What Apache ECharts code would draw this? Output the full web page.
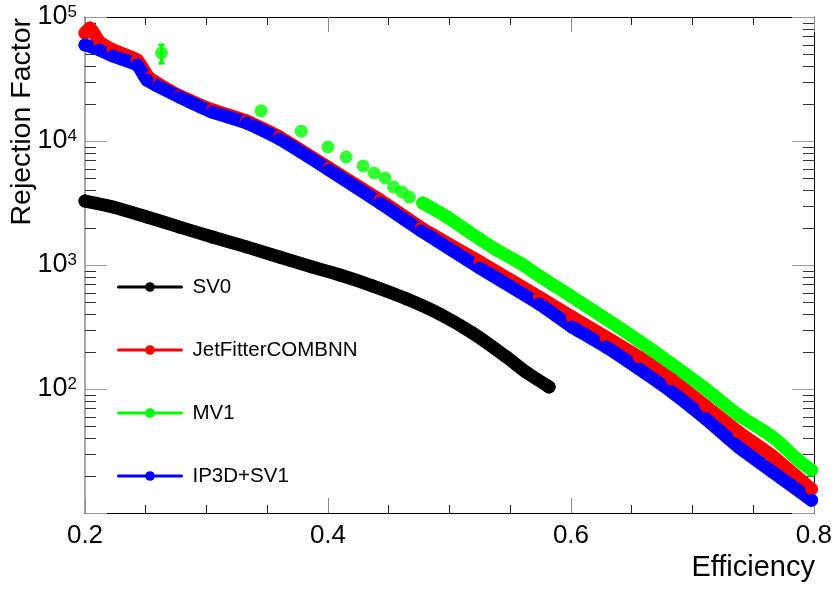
<!DOCTYPE html>
<html>
<head>
<meta charset="utf-8">
<script src="https://cdn.jsdelivr.net/npm/echarts@6/dist/echarts.min.js"></script>
<style>
  html, body { margin: 0; padding: 0; background: #fff; }
  #chart { width: 835px; height: 590px; }
</style>
</head>
<body>
<div id="chart"></div>
<script>
// b-tagging performance: light-jet rejection versus b-jet efficiency

// SV0
const sv0Eff = [0.200, 0.223, 0.251, 0.278, 0.305, 0.333, 0.360, 0.387, 0.410, 0.437, 0.465, 0.492, 0.519, 0.547, 0.563, 0.582];
const sv0Rej = [3280, 2940, 2440, 2020, 1680, 1400, 1160, 964, 830, 677, 532, 403, 283, 181, 137, 104];

// JetFitterCOMBNN
const jfEff = [0.200, 0.204, 0.212, 0.223, 0.243, 0.253, 0.278, 0.305, 0.333, 0.360, 0.401, 0.443, 0.477, 0.525, 0.574, 0.601, 0.629, 0.656, 0.683, 0.711, 0.738, 0.766, 0.798];
const jfRej = [74300, 81500, 62900, 54200, 45000, 32200, 23100, 17800, 14500, 10800, 6060, 3340, 1990, 1060, 552, 381, 262, 181, 120, 72.9, 45.0, 28.8, 15.6];

// MV1: isolated high-rejection points, then the dense part of the curve
const mv1SparseEff = [0.263, 0.345, 0.378, 0.400, 0.415, 0.429, 0.438, 0.447, 0.454, 0.461, 0.467];
const mv1SparseRej = [51300, 17500, 12000, 8950, 7430, 6290, 5520, 5030, 4260, 3880, 3530];
const mv1Eff = [0.478, 0.498, 0.516, 0.539, 0.558, 0.574, 0.601, 0.629, 0.656, 0.683, 0.711, 0.738, 0.766, 0.788, 0.798];
const mv1Rej = [3160, 2440, 1850, 1320, 1040, 815, 552, 367, 244, 159, 100, 61.7, 41.0, 26.3, 22.2];
// statistical error on the first MV1 point: [efficiency, low, high]
const mv1Err = [[0.263, 42500, 59500]];

// IP3D+SV1
const ipEff = [0.200, 0.212, 0.223, 0.243, 0.251, 0.278, 0.305, 0.333, 0.360, 0.401, 0.443, 0.477, 0.525, 0.574, 0.601, 0.629, 0.656, 0.683, 0.711, 0.738, 0.766, 0.798];
const ipRej = [59500, 54200, 48500, 41000, 31000, 22600, 17100, 14000, 10400, 5840, 3160, 1880, 946, 484, 316, 218, 145, 94.6, 57.3, 34.0, 21.4, 12.7];

// axes
const X_MIN = 0.2, X_MAX = 0.8, X_STEP = 0.2;
const Y_MIN = 10, Y_MAX = 100000;
const minorMantissas = [2, 3, 4, 5, 6, 7, 8, 9];
const minorDecades = [10, 100, 1000, 10000];
const yMinorTicks = [];
minorDecades.forEach(d => minorMantissas.forEach(m => yMinorTicks.push(m * d)));

const legendNames = ['SV0', 'JetFitterCOMBNN', 'MV1', 'IP3D+SV1'];
const FONT = '"Liberation Sans", Arial, Helvetica, sans-serif';
const BAND = 13;

const pairs = (xs, ys) => xs.map((x, i) => [x, ys[i]]);

function curve(name, color, xs, ys, smooth) {
  return {
    name: name,
    type: 'line',
    data: pairs(xs, ys),
    color: color,
    smooth: smooth,
    symbol: 'circle',
    symbolSize: BAND,
    showSymbol: true,
    showAllSymbol: true,
    lineStyle: { width: BAND, color: color, cap: 'round', join: 'round' },
    itemStyle: { color: color },
    clip: false,
    silent: true
  };
}

const chart = echarts.init(document.getElementById('chart'), null, { renderer: 'canvas' });

chart.setOption({
  animation: false,
  backgroundColor: '#fff',
  grid: { left: 85, right: 20, top: 17, bottom: 77 },
  xAxis: [
    {
      type: 'value', position: 'bottom',
      min: X_MIN, max: X_MAX, interval: X_STEP,
      axisLine: { show: true, onZero: false, lineStyle: { color: '#000', width: 1 } },
      axisTick: { show: true, inside: true, length: 15, lineStyle: { color: '#8c8c8c', width: 1 } },
      minorTick: { show: true, splitNumber: 4, length: 8, lineStyle: { color: '#222', width: 1 } },
      axisLabel: {
        fontSize: 26, color: '#000', fontFamily: FONT, margin: 10,
        formatter: v => v.toFixed(1)
      },
      splitLine: { show: false }
    },
    {
      type: 'value', position: 'top',
      min: X_MIN, max: X_MAX, interval: X_STEP,
      axisLine: { show: true, onZero: false, lineStyle: { color: '#000', width: 1 } },
      axisTick: { show: true, inside: true, length: 15, lineStyle: { color: '#8c8c8c', width: 1 } },
      minorTick: { show: true, splitNumber: 4, length: 8, lineStyle: { color: '#222', width: 1 } },
      axisLabel: { show: false },
      splitLine: { show: false }
    }
  ],
  yAxis: [
    {
      type: 'log', logBase: 10, position: 'left',
      min: Y_MIN, max: Y_MAX,
      axisLine: { show: true, onZero: false, lineStyle: { color: '#8c8c8c', width: 1.5 } },
      axisTick: { show: true, inside: true, length: 22, lineStyle: { color: '#999', width: 1 } },
      axisLabel: {
        fontSize: 27, color: '#000', fontFamily: FONT, margin: 8,
        formatter: v => {
          const e = Math.round(Math.log10(v));
          return e <= 1 ? '' : '10{sup|' + e + '}';
        },
        rich: { sup: { fontSize: 17, color: '#000', fontFamily: FONT, verticalAlign: 'top' } }
      },
      splitLine: { show: false }
    },
    {
      type: 'log', logBase: 10, position: 'right',
      min: Y_MIN, max: Y_MAX,
      axisLine: { show: true, onZero: false, lineStyle: { color: '#000', width: 1 } },
      axisTick: { show: true, inside: true, length: 22, lineStyle: { color: '#999', width: 1 } },
      axisLabel: { show: false },
      splitLine: { show: false }
    }
  ],
  legend: {
    orient: 'vertical',
    left: 112, top: 270,
    itemWidth: 63, itemHeight: 12, itemGap: 39,
    selectedMode: false,
    data: legendNames,
    lineStyle: { width: 3 },
    textStyle: { fontSize: 20.5, color: '#000', fontFamily: FONT, padding: [0, 0, 0, 6], lineHeight: 24 }
  },
  graphic: [
    {
      type: 'text', x: 22, y: 18, rotation: Math.PI / 2, silent: true,
      style: { text: 'Rejection Factor', fontSize: 28.5, fontFamily: FONT, fill: '#000', align: 'right', verticalAlign: 'middle' }
    },
    {
      type: 'text', x: 815, y: 568, silent: true,
      style: { text: 'Efficiency', fontSize: 29, fontFamily: FONT, fill: '#000', align: 'right', verticalAlign: 'middle' }
    }
  ],
  series: [
    // minor ticks of the logarithmic axes, left and right frame edges
    {
      type: 'custom', name: 'yMinorTicks', silent: true, clip: false, z: 1,
      data: yMinorTicks.map(v => [X_MIN, v]),
      renderItem: (params, api) => {
        const v = api.value(1);
        const l = api.coord([X_MIN, v]);
        const r = api.coord([X_MAX, v]);
        const y = Math.round(l[1]) + 0.5;
        return {
          type: 'group',
          children: [
            { type: 'line', shape: { x1: l[0], y1: y, x2: l[0] + 11, y2: y }, style: { stroke: '#333', lineWidth: 1 } },
            { type: 'line', shape: { x1: r[0] - 11, y1: y, x2: r[0], y2: y }, style: { stroke: '#333', lineWidth: 1 } }
          ]
        };
      }
    },
    curve('SV0', '#000000', sv0Eff, sv0Rej, 0.3),
    curve('JetFitterCOMBNN', '#ff0000', jfEff, jfRej, 0.15),
    curve('MV1', '#00ff00', mv1Eff, mv1Rej, 0.3),
    {
      type: 'custom', name: 'MV1 error', silent: true, clip: false,
      data: mv1Err,
      renderItem: (params, api) => {
        const lo = api.coord([api.value(0), api.value(1)]);
        const hi = api.coord([api.value(0), api.value(2)]);
        const st = { stroke: '#00ff00', lineWidth: 3 };
        return {
          type: 'group',
          children: [
            { type: 'line', shape: { x1: lo[0], y1: lo[1], x2: hi[0], y2: hi[1] }, style: st },
            { type: 'line', shape: { x1: lo[0] - 3, y1: lo[1], x2: lo[0] + 3, y2: lo[1] }, style: st },
            { type: 'line', shape: { x1: hi[0] - 3, y1: hi[1], x2: hi[0] + 3, y2: hi[1] }, style: st }
          ]
        };
      }
    },
    {
      name: 'MV1', type: 'scatter',
      data: pairs(mv1SparseEff, mv1SparseRej),
      symbol: 'circle', symbolSize: BAND,
      itemStyle: { color: '#00ff00' },
      clip: false, silent: true
    },
    curve('IP3D+SV1', '#0000ff', ipEff, ipRej, 0.15)
  ]
});
</script>
</body>
</html>
